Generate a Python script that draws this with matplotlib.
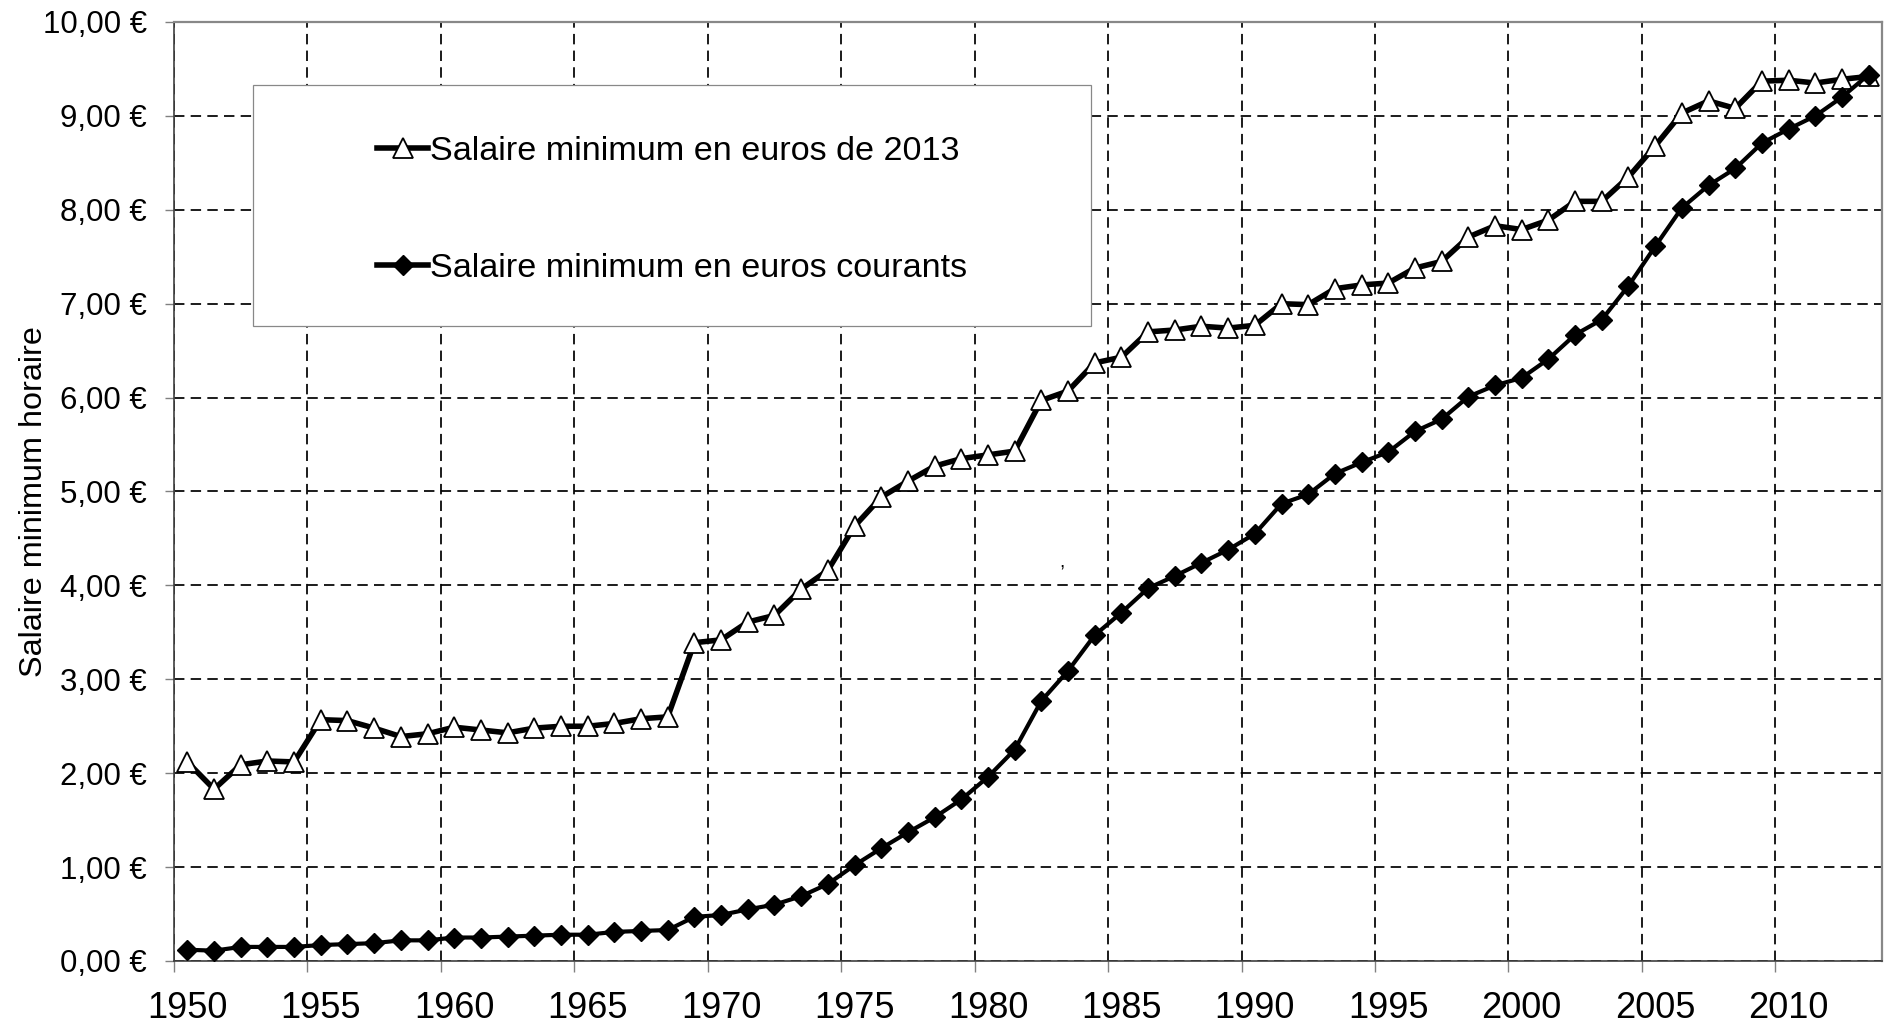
import matplotlib
matplotlib.use("Agg")
import matplotlib.pyplot as plt
from matplotlib.patches import Rectangle
from matplotlib.lines import Line2D
from matplotlib.ticker import FuncFormatter, MultipleLocator, FixedLocator, NullFormatter
import numpy as np

plt.rcParams['font.family'] = ['Liberation Sans', 'DejaVu Sans']

years = list(range(1950, 2014))

smic_2013 = [2.12, 1.83, 2.09, 2.13, 2.12, 2.57, 2.56, 2.48, 2.39, 2.42,
             2.49, 2.46, 2.43, 2.48, 2.50, 2.50, 2.53, 2.58, 2.60, 3.39,
             3.42, 3.61, 3.68, 3.96, 4.16, 4.63, 4.94, 5.11, 5.27, 5.35,
             5.39, 5.43, 5.97, 6.07, 6.37, 6.43, 6.70, 6.72, 6.76, 6.74,
             6.77, 7.00, 6.99, 7.16, 7.20, 7.22, 7.38, 7.45, 7.71, 7.83,
             7.79, 7.89, 8.09, 8.09, 8.35, 8.68, 9.03, 9.16, 9.08, 9.37,
             9.38, 9.35, 9.39, 9.42]

smic_courant = [0.12, 0.11, 0.15, 0.15, 0.15, 0.17, 0.18, 0.19, 0.22, 0.22,
                0.25, 0.25, 0.26, 0.27, 0.28, 0.28, 0.31, 0.32, 0.33, 0.47,
                0.49, 0.55, 0.60, 0.69, 0.82, 1.02, 1.20, 1.37, 1.53, 1.72,
                1.96, 2.25, 2.77, 3.09, 3.47, 3.71, 3.97, 4.10, 4.24, 4.38,
                4.55, 4.87, 4.97, 5.19, 5.31, 5.42, 5.64, 5.77, 6.01, 6.13,
                6.21, 6.41, 6.67, 6.83, 7.19, 7.61, 8.02, 8.26, 8.44, 8.71,
                8.86, 9.00, 9.20, 9.44]

label_2013 = "Salaire minimum en euros de 2013"
label_courant = "Salaire minimum en euros courants"
ylabel = "Salaire minimum horaire"
x_ticks = list(range(1950, 2011, 5))
x_ticklabels = [str(y) for y in x_ticks]

fig = plt.figure(figsize=(18.86, 10.26), dpi=100)
ax = fig.add_axes([174/1886, 1 - 961/1026, (1882-174)/1886, (961-22)/1026])

x = np.array(years) + 0.5

ax.plot(x, smic_2013, color='black', lw=4.0, marker='^', markersize=15,
        markerfacecolor='white', markeredgecolor='black', markeredgewidth=1.3,
        zorder=4, clip_on=False)
ax.plot(x, smic_courant, color='black', lw=3.0, marker='D', markersize=10,
        markerfacecolor='black', markeredgecolor='black', markeredgewidth=1,
        zorder=5, clip_on=False)

ax.set_xlim(1950, 2014)
ax.set_ylim(0, 10)
# gridlines / tick marks at the years, labels centred on the year's category
ax.xaxis.set_major_locator(FixedLocator(x_ticks))
ax.xaxis.set_major_formatter(NullFormatter())
ax.xaxis.set_minor_locator(FixedLocator([t + 0.5 for t in x_ticks]))
ax.set_xticklabels(x_ticklabels, minor=True, fontsize=26)
ax.yaxis.set_major_locator(MultipleLocator(1))
ax.yaxis.set_major_formatter(FuncFormatter(lambda v, p: f"{v:.2f}".replace('.', ',') + " €"))

ax.grid(True, which='major', color='black', linestyle=(0, (6, 3.6)), linewidth=1.25, zorder=1)
ax.set_axisbelow(True)

ax.tick_params(axis='y', direction='out', length=6.5, width=1, color='#808080',
               labelsize=22.5, pad=13)
ax.tick_params(axis='x', which='major', direction='out', length=8, width=1,
               color='#808080')
ax.tick_params(axis='x', which='minor', length=0, labelsize=26, pad=21.5)

for side in ['left', 'bottom']:
    ax.spines[side].set_color('#404040')
    ax.spines[side].set_linewidth(1.2)
for side in ['top', 'right']:
    ax.spines[side].set_color('#888888')
    ax.spines[side].set_linewidth(1.6)

ax.set_ylabel(ylabel, fontsize=23.3)
ax.yaxis.set_label_coords(-0.073, 0.489)

# legend box
ax.add_patch(Rectangle((0.046, 0.6763), 0.4909, 0.2561, transform=ax.transAxes,
                       facecolor='white', edgecolor='#888888', linewidth=0.9,
                       zorder=3))
handles = [
    Line2D([], [], color='black', lw=4.0, marker='^', markersize=15,
           markerfacecolor='white', markeredgecolor='black', markeredgewidth=1.3),
    Line2D([], [], color='black', lw=4.0, marker='D', markersize=10,
           markerfacecolor='black', markeredgecolor='black'),
]
leg = ax.legend(handles, [label_2013, label_courant], loc='center',
                bbox_to_anchor=(0.2916, 0.8001), frameon=False, fontsize=24.6,
                handlelength=1.5, handletextpad=0.05, labelspacing=2.51,
                borderpad=0.0)
leg.set_zorder(6)

ax.text(1983.26, 4.24, ",", fontsize=14, ha='center', va='center', zorder=2)

fig.savefig("out.png", dpi=100)
